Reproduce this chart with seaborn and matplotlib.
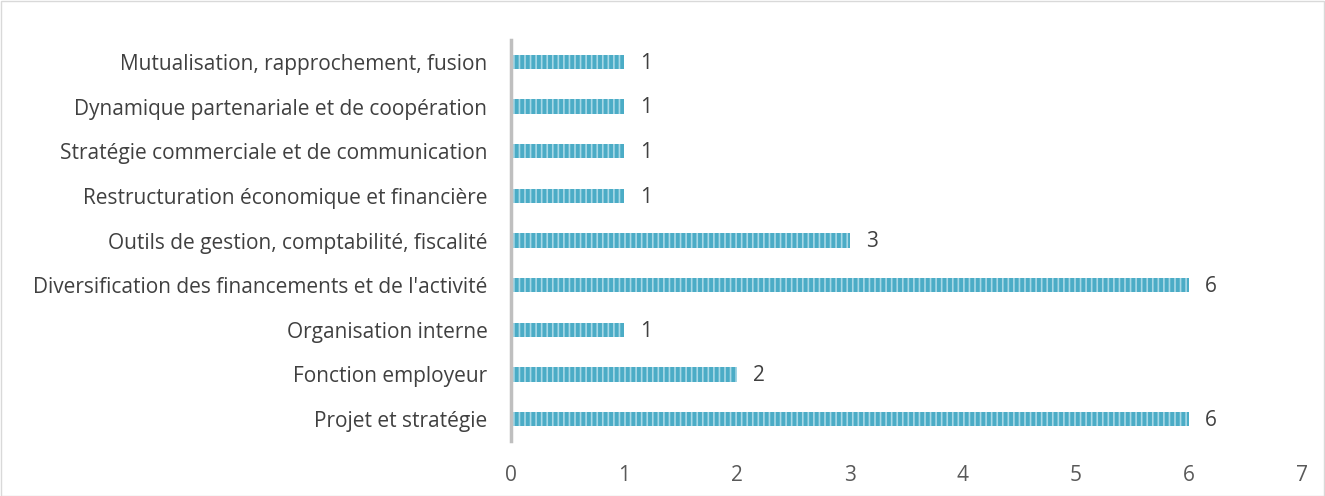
import matplotlib
matplotlib.use("Agg")
import matplotlib.pyplot as plt
import seaborn as sns
import pandas as pd
from matplotlib.patches import Rectangle

categories = [
    "Mutualisation, rapprochement, fusion",
    "Dynamique partenariale et de coopération",
    "Stratégie commerciale et de communication",
    "Restructuration économique et financière",
    "Outils de gestion, comptabilité, fiscalité",
    "Diversification des financements et de l'activité",
    "Organisation interne",
    "Fonction employeur",
    "Projet et stratégie",
]
values = [1, 1, 1, 1, 3, 6, 1, 2, 6]
xticks = [0, 1, 2, 3, 4, 5, 6, 7]

sns.set_theme(style="white")
plt.rcParams['font.family'] = ['Open Sans', 'DejaVu Sans']
plt.rcParams['hatch.linewidth'] = 1.2

df = pd.DataFrame({"cat": categories, "val": values})

fig = plt.figure(figsize=(13.25, 4.96), dpi=100)
ax = fig.add_axes([0.3857, 0.110, 0.5969, 0.810])

sns.barplot(data=df, x="val", y="cat", orient="h", color="#4BACC6",
            width=0.32, ax=ax, saturation=1)
for p in ax.patches:
    p.set_hatch("|||")
    p.set_edgecolor("#A8D8E6")
    p.set_linewidth(0)

for i, v in enumerate(values):
    ax.text(v + 0.14, i + 0.03, str(v), va="center", ha="left", fontsize=15, color="#404040")

ax.set_xlim(0, 7)
ax.set_ylim(8.5, -0.5)
ax.set_xticks(xticks)
ax.set_xticklabels([str(t) for t in xticks])
ax.set_xlabel("")
ax.set_ylabel("")
ax.tick_params(axis="x", labelsize=15, colors="#595959", length=0, pad=17)
ax.tick_params(axis="y", labelsize=15, colors="#404040", length=0, pad=17)
for s in ["top", "right", "bottom"]:
    ax.spines[s].set_visible(False)
ax.spines["left"].set_color("#BFBFBF")
ax.spines["left"].set_linewidth(2.5)

fig.patches.append(Rectangle((0.001, 0.001), 0.998, 0.997, transform=fig.transFigure,
                             fill=False, edgecolor="#D9D9D9", linewidth=1))

fig.savefig("out.png", dpi=100)
